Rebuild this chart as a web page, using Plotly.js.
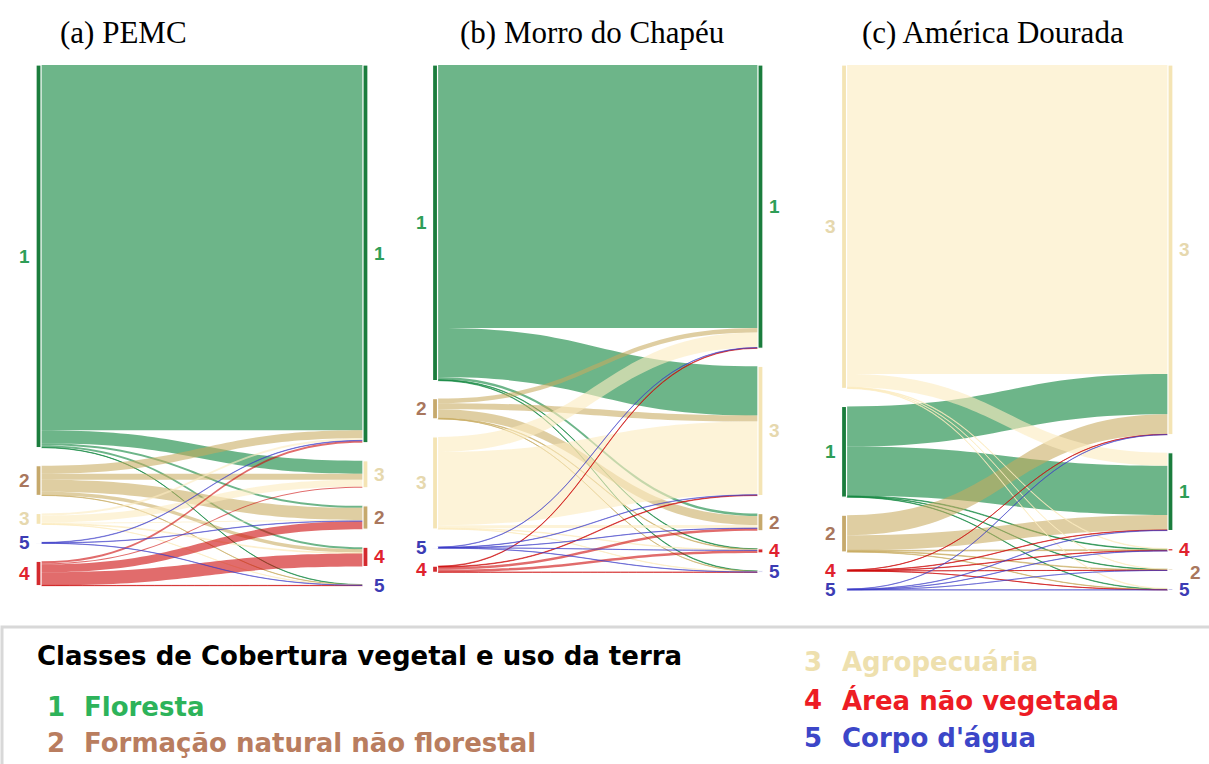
<!DOCTYPE html>
<html>
<head>
<meta charset="utf-8">
<script src="https://cdn.plot.ly/plotly-3.0.1.min.js"></script>
<style>
  html, body { margin: 0; padding: 0; background: #ffffff; }
  #chart { width: 1209px; height: 764px; }
</style>
</head>
<body>
<div id="chart"></div>
<script>
// ---------------- DATA ----------------
const classCodes = ['1', '2', '3', '4', '5'];
const classNames = ['Floresta', 'Formação natural não florestal', 'Agropecuária', 'Área não vegetada', "Corpo d'água"];
const legendTitle = 'Classes de Cobertura vegetal e uso da terra';
const panelTitles = ['(a) PEMC', '(b) Morro do Chapéu', '(c) América Dourada'];

// Transition matrices (estimated area units): row = class at start, column = class at end (1..5)
const flowsPEMC = [
  [364, 2, 13, 2, 0.3],
  [8, 12, 6, 3.5, 0.2],
  [2, 1, 7, 0.8, 0.1],
  [2, 8, 1, 13, 0.3],
  [0.4, 0.3, 0, 0, 0.2]
];
const flowsMorro = [
  [262, 2.5, 49, 0.5, 0.5],
  [4.5, 9, 6, 0.5, 0.2],
  [15, 3, 73, 0.5, 0.3],
  [0.5, 2.5, 0.5, 2.5, 0.2],
  [0.3, 0.2, 0.3, 0.1, 0.2]
];
const flowsAmerica = [
  [49, 0.4, 40, 0.6, 0.4],
  [15, 0.6, 20, 0.8, 0.3],
  [13, 0.3, 308, 0.5, 0.5],
  [0.3, 0.1, 0.2, 0.3, 0.1],
  [0.3, 0.1, 0.2, 0.2, 0.2]
];
// display order of the classes in each column (top to bottom)
const leftOrderPEMC = [1, 2, 3, 5, 4];
const rightOrderPEMC = [1, 3, 2, 4, 5];
const leftOrderMorro = [1, 2, 3, 5, 4];
const rightOrderMorro = [1, 3, 2, 4, 5];
const leftOrderAmerica = [3, 1, 2, 4, 5];
const rightOrderAmerica = [3, 1, 4, 2, 5];

// ---------------- STYLE ----------------
const W = 1209, Hpage = 764;
const nodeColors = ['#1b7d3d', '#c6a96c', '#f4e4b4', '#d42a2e', '#4646c2'];
const linkColors = ['rgba(20,135,65,0.62)', 'rgba(200,170,95,0.58)', 'rgba(252,236,192,0.62)', 'rgba(205,10,10,0.6)', 'rgba(60,60,200,0.5)'];
const labelColors = ['#2e9e57', '#a9775d', '#e6d8ae', '#e0222e', '#3c3cb4'];
const legendColors = ['#2db35a', '#b97d5f', '#eee0ae', '#ed1c24', '#3c46c8'];

const topPx = 65, bottomPx = 590, pad = 18, thick = 5;
const panelsPx = [[38.5, 365.5], [435, 760.5], [844, 1170.5]];
const panelTitleX = [58, 458, 860];
const labelSize = 19;

const panels = [
  {flows: flowsPEMC, left: leftOrderPEMC, right: rightOrderPEMC},
  {flows: flowsMorro, left: leftOrderMorro, right: rightOrderMorro},
  {flows: flowsAmerica, left: leftOrderAmerica, right: rightOrderAmerica}
];

const sumAll = m => m.reduce((a, r) => a + r.reduce((b, v) => b + v, 0), 0);
const maxTotal = Math.max(...panels.map(p => sumAll(p.flows)));
const ky = (bottomPx - topPx - 4 * pad) / maxTotal;   // common scale for all panels

const traces = [];
const annotations = [];

panels.forEach((p, k) => {
  const src = [], tgt = [], val = [], lcol = [];
  const leftTot = [0, 0, 0, 0, 0], rightTot = [0, 0, 0, 0, 0];
  p.flows.forEach((row, i) => row.forEach((v, j) => {
    if (v > 0) {
      src.push(i); tgt.push(5 + j); val.push(v); lcol.push(linkColors[i]);
      leftTot[i] += v; rightTot[j] += v;
    }
  }));
  const total = sumAll(p.flows);
  const Hd = 4 * pad + total * ky;   // domain height in px
  const ny = new Array(10).fill(0.5), nx = new Array(10).fill(0.5);
  const place = (order, tots, base, xval, isLeft) => {
    let off = 0;
    let prevCenter = -1000, prevShifted = false;
    order.forEach(c => {
      const h = tots[c - 1] * ky;
      const center = off + h / 2;
      ny[base + c - 1] = center / Hd;
      nx[base + c - 1] = xval;
      const crowded = !isLeft && (center - prevCenter) < 20 && !prevShifted;
      const shift = crowded ? 11 : 0;
      const xPx = isLeft ? panelsPx[k][0] - thick / 2 - 4 : panelsPx[k][1] + thick / 2 + 4 + shift;
      annotations.push({
        xref: 'paper', yref: 'paper', x: xPx / W, y: 1 - (topPx + center + (crowded ? 3 : 0)) / Hpage,
        xanchor: isLeft ? 'right' : 'left', yanchor: 'middle', showarrow: false,
        text: classCodes[c - 1],
        font: {family: 'Liberation Sans, Arial, sans-serif', size: labelSize, color: labelColors[c - 1], weight: 'bold'}
      });
      prevCenter = center; prevShifted = crowded;
      off += h + pad;
    });
  };
  place(p.left, leftTot, 0, 0.0001, true);
  place(p.right, rightTot, 5, 0.9999, false);

  traces.push({
    type: 'sankey',
    arrangement: 'snap',
    domain: {x: [panelsPx[k][0] / W, panelsPx[k][1] / W], y: [1 - (topPx + Hd) / Hpage, 1 - topPx / Hpage]},
    node: {
      pad: pad, thickness: thick,
      line: {color: 'white', width: 1.2},
      label: new Array(10).fill(''),
      customdata: classNames.concat(classNames),
      hovertemplate: '%{customdata}: %{value}<extra></extra>',
      color: nodeColors.concat(nodeColors),
      x: nx, y: ny
    },
    link: {source: src, target: tgt, value: val, color: lcol,
           hovertemplate: '%{source.customdata} → %{target.customdata}: %{value}<extra></extra>'}
  });

  annotations.push({
    xref: 'paper', yref: 'paper', x: panelTitleX[k] / W, y: 1 - 32 / Hpage,
    xanchor: 'left', yanchor: 'middle', showarrow: false, text: panelTitles[k],
    font: {family: 'Liberation Serif, Times New Roman, serif', size: 31, color: '#000'}
  });
});

// legend
const legFont = 'DejaVu Sans, Verdana, sans-serif';
annotations.push({
  xref: 'paper', yref: 'paper', x: 35 / W, y: 1 - 656 / Hpage, xanchor: 'left', yanchor: 'middle',
  showarrow: false, text: legendTitle, font: {family: legFont, size: 26, color: '#000', weight: 'bold'}
});
const legPos = [[45, 82, 707], [45, 82, 743], [802, 840, 662], [802, 840, 700], [802, 840, 738]];
classNames.forEach((name, i) => {
  const [xn, xt, yc] = legPos[i];
  annotations.push({xref: 'paper', yref: 'paper', x: xn / W, y: 1 - yc / Hpage, xanchor: 'left', yanchor: 'middle',
    showarrow: false, text: classCodes[i], font: {family: legFont, size: 26, color: legendColors[i], weight: 'bold'}});
  annotations.push({xref: 'paper', yref: 'paper', x: xt / W, y: 1 - yc / Hpage, xanchor: 'left', yanchor: 'middle',
    showarrow: false, text: name, font: {family: legFont, size: 26, color: legendColors[i], weight: 'bold'}});
});

const layout = {
  width: W, height: Hpage,
  margin: {l: 0, r: 0, t: 0, b: 0},
  paper_bgcolor: '#ffffff',
  showlegend: false,
  annotations: annotations,
  shapes: [{
    type: 'rect', xref: 'paper', yref: 'paper',
    x0: 2 / W, x1: 1.02, y0: -0.05, y1: 1 - 627 / Hpage,
    line: {color: '#d8d8d8', width: 3}, fillcolor: 'rgba(0,0,0,0)'
  }]
};

Plotly.newPlot('chart', traces, layout, {displayModeBar: false});
</script>
</body>
</html>
